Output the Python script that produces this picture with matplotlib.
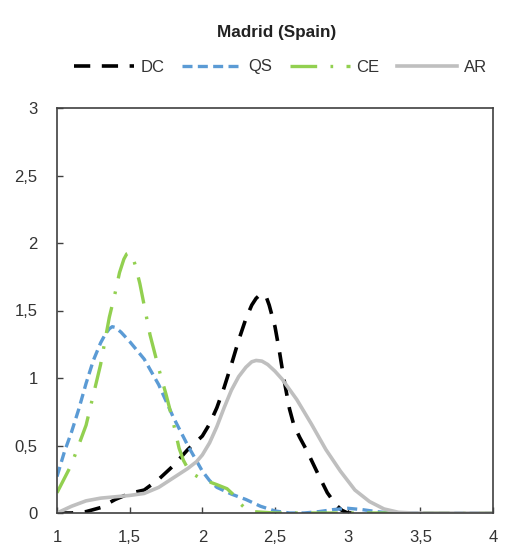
import matplotlib
matplotlib.use("Agg")
import matplotlib.pyplot as plt

plt.rcParams['font.family'] = ['Liberation Sans', 'DejaVu Sans']

title = "Madrid (Spain)"
series_names = ["DC", "QS", "CE", "AR"]

dc_x = [1.0, 1.1, 1.2, 1.3, 1.4, 1.5, 1.6, 1.7, 1.8, 1.9, 2.0, 2.05, 2.1, 2.15, 2.2, 2.25, 2.3, 2.34, 2.37, 2.4, 2.42, 2.44, 2.46, 2.48, 2.5, 2.53, 2.56, 2.6, 2.63, 2.67, 2.72, 2.8, 2.86, 2.92, 2.96, 3.0, 3.1]
dc_y = [0.0, 0.0, 0.01, 0.04, 0.1, 0.145, 0.17, 0.25, 0.35, 0.47, 0.57, 0.66, 0.78, 0.93, 1.1, 1.28, 1.44, 1.54, 1.59, 1.62, 1.62, 1.6, 1.54, 1.46, 1.38, 1.2, 1.0, 0.77, 0.65, 0.56, 0.46, 0.28, 0.15, 0.06, 0.02, 0.0, 0.0]

qs_x = [1.0, 1.05, 1.1, 1.15, 1.2, 1.25, 1.3, 1.33, 1.36, 1.38, 1.4, 1.44, 1.5, 1.6, 1.7, 1.8, 1.9, 2.0, 2.05, 2.1, 2.2, 2.3, 2.4, 2.5, 2.6, 2.7, 2.8, 2.9, 3.0, 3.1, 3.2, 3.3, 4.0]
qs_y = [0.27, 0.45, 0.6, 0.77, 0.96, 1.13, 1.26, 1.32, 1.365, 1.38, 1.375, 1.34, 1.27, 1.14, 0.95, 0.71, 0.5, 0.31, 0.24, 0.19, 0.14, 0.1, 0.05, 0.015, 0.0, 0.0, 0.01, 0.025, 0.035, 0.025, 0.01, 0.0, 0.0]

ce_x = [1.0, 1.1, 1.2, 1.3, 1.36, 1.4, 1.43, 1.46, 1.48, 1.5, 1.52, 1.54, 1.57, 1.64, 1.7, 1.75, 1.8, 1.84, 1.87, 1.9, 1.95, 2.0, 2.1, 2.17, 2.22, 2.26, 2.3, 2.35, 2.5, 4.0]
ce_y = [0.15, 0.36, 0.65, 1.1, 1.45, 1.63, 1.78, 1.88, 1.92, 1.93, 1.9, 1.83, 1.7, 1.32, 1.07, 0.88, 0.67, 0.48, 0.39, 0.33, 0.28, 0.25, 0.21, 0.18, 0.13, 0.07, 0.03, 0.01, 0.0, 0.0]

ar_x = [1.0, 1.1, 1.2, 1.3, 1.4, 1.5, 1.6, 1.7, 1.8, 1.9, 1.96, 2.0, 2.05, 2.1, 2.15, 2.2, 2.25, 2.3, 2.34, 2.37, 2.41, 2.45, 2.5, 2.55, 2.65, 2.75, 2.85, 2.95, 3.05, 3.15, 3.25, 3.35, 3.45, 4.0]
ar_y = [0.0, 0.05, 0.09, 0.11, 0.12, 0.13, 0.145, 0.19, 0.26, 0.33, 0.38, 0.43, 0.52, 0.64, 0.78, 0.91, 1.01, 1.08, 1.12, 1.13, 1.125, 1.1, 1.05, 0.99, 0.84, 0.66, 0.47, 0.31, 0.17, 0.085, 0.03, 0.005, 0.0, 0.0]

x_ticks = [1, 1.5, 2, 2.5, 3, 3.5, 4]
x_tick_labels = ["1", "1,5", "2", "2,5", "3", "3,5", "4"]
y_ticks = [0, 0.5, 1, 1.5, 2, 2.5, 3]
y_tick_labels = ["0", "0,5", "1", "1,5", "2", "2,5", "3"]

fig = plt.figure(figsize=(5.05, 5.47), dpi=100)
ax = fig.add_axes([57/505, 34/547, 436/505, 405/547])

ax.plot(dc_x, dc_y, color="black", lw=2.6, dashes=(4.5, 3.2), label=series_names[0])
ax.plot(qs_x, qs_y, color="#5B9BD5", lw=2.4, dashes=(3.0, 1.6), label=series_names[1])
ax.plot(ce_x, ce_y, color="#92D050", lw=2.4, dashes=(8, 4, 0.8, 4), label=series_names[2])
ax.plot(ar_x, ar_y, color="#BFBFBF", lw=2.6, label=series_names[3])

ax.set_xlim(1, 4)
ax.set_ylim(0, 3)
ax.set_xticks(x_ticks)
ax.set_xticklabels(x_tick_labels)
ax.set_yticks(y_ticks)
ax.set_yticklabels(y_tick_labels)
ax.tick_params(direction='in', length=4, width=1, color='#404040', labelsize=12, labelcolor='#333333')
ax.tick_params(axis='x', pad=12)
ax.tick_params(axis='y', pad=14)
for s in ax.spines.values():
    s.set_color('#404040')
    s.set_linewidth(1.2)

fig.text(0.548, 1 - 33/547, title, ha='center', va='center', fontsize=12.3, fontweight='bold', color='#222222')
fig.legend(loc='center', bbox_to_anchor=(0.555, 1 - 67/547), ncol=4, frameon=False,
           fontsize=12, handlelength=3.6, handletextpad=0.4, columnspacing=1.05,
           labelcolor='#333333')

fig.savefig("out.png", dpi=100)
